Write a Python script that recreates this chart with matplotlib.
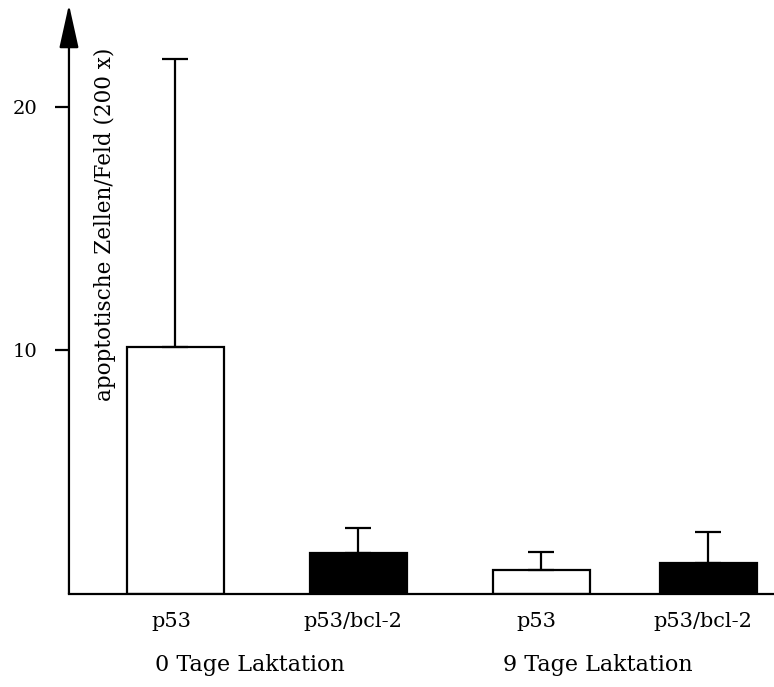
import numpy as np
import matplotlib.pyplot as plt

plt.rcParams["font.family"] = ["DejaVu Serif"]

# 데이터
positions = [0, 1, 2, 2.91]
means = [10.16, 1.69, 0.99, 1.28]
err_up = [11.82, 1.03, 0.74, 1.27]
colors = ["white", "black", "white", "black"]
tick_pos = [-0.02, 0.97, 1.97, 2.88]
tick_labels = ["p53", "p53/bcl-2", "p53", "p53/bcl-2"]
group_pos = [0.41, 2.31]
group_labels = ["0 Tage Laktation", "9 Tage Laktation"]
ylabel = "apoptotische Zellen/Feld (200 x)"

fig = plt.figure(figsize=(7.74, 6.87), dpi=100)
ax = fig.add_axes([0.0891, 0.1354, 0.9109, 0.858])

ax.bar(positions, means, width=0.53, color=colors, edgecolor="black",
       linewidth=1.6, zorder=2)
ax.errorbar(positions, means, yerr=[np.zeros(len(means)), err_up], fmt="none",
            ecolor="black", elinewidth=1.6, capsize=9.5, capthick=1.6, zorder=3)

ax.set_xlim(-0.58, 3.27)
ax.set_ylim(0, 24.2)

for s in ["top", "right", "left"]:
    ax.spines[s].set_visible(False)
ax.spines["bottom"].set_linewidth(1.6)

# y축 화살표
ax.annotate("", xy=(0, 1), xytext=(0, 0), xycoords="axes fraction",
            arrowprops=dict(arrowstyle="-|>,head_length=2.7,head_width=0.6",
                            mutation_scale=10, lw=1.6, color="black",
                            shrinkA=0, shrinkB=0))

ax.set_yticks([10, 20])
ax.set_yticklabels(["10", "20"], fontsize=14)
ax.tick_params(axis="y", length=10, width=1.6, pad=13)
ax.set_xticks(tick_pos)
ax.set_xticklabels(tick_labels, fontsize=15)
ax.tick_params(axis="x", length=0, pad=13)

ax.text(0.051, 0.627, ylabel, transform=ax.transAxes, rotation=90,
        ha="center", va="center", fontsize=15.5)

for x, lab in zip(group_pos, group_labels):
    ax.text(x, -0.12, lab, transform=ax.get_xaxis_transform(),
            ha="center", va="center", fontsize=16)

plt.savefig("out.png", dpi=100)
